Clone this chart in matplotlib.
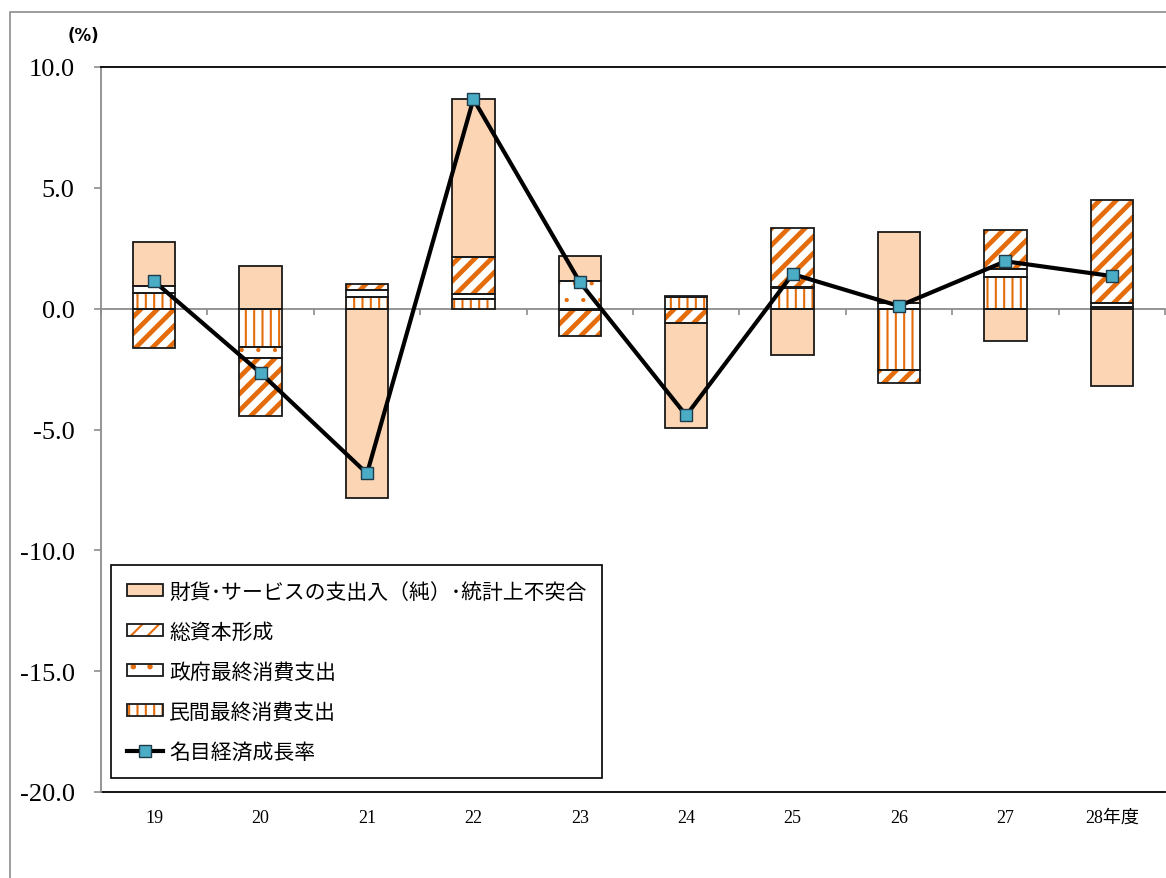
import matplotlib

matplotlib.use("Agg")
import matplotlib.pyplot as plt
import numpy as np
from matplotlib.patches import Rectangle
from matplotlib.lines import Line2D
from matplotlib.legend_handler import HandlerTuple

plt.rcParams["font.family"] = ["Noto Sans CJK JP", "DejaVu Sans"]
plt.rcParams["hatch.linewidth"] = 1.5

# ------------------------------------------------------------ data
years = ["19", "20", "21", "22", "23", "24", "25", "26", "27", "28年度"]
private = [0.65, -1.58, 0.48, 0.41, -0.05, 0.48, 0.84, -2.53, 1.31, 0.06]
government = [0.30, -0.46, 0.30, 0.20, 1.13, 0.03, 0.04, 0.23, 0.33, 0.17]
capital = [-1.62, -2.41, 0.24, 1.51, -1.07, -0.59, 2.45, -0.55, 1.61, 4.27]
net_exports = [1.79, 1.78, -7.85, 6.55, 1.07, -4.34, -1.93, 2.96, -1.34, -3.18]
growth = [1.13, -2.66, -6.82, 8.67, 1.10, -4.42, 1.43, 0.11, 1.96, 1.35]

labels = [
    "財貨･サービスの支出入（純）･統計上不突合",
    "総資本形成",
    "政府最終消費支出",
    "民間最終消費支出",
    "名目経済成長率",
]

PEACH = "#FCD5B4"
ORANGE = "#E46C0A"
TEAL = "#4BACC6"
EDGE = "#1a1a1a"
GRID_GRAY = "#8c8c8c"
BAR_W = 0.4

fig = plt.figure(figsize=(11.66, 8.79), dpi=100)
ax = fig.add_axes([101 / 1166, 1 - 793 / 879, 1064 / 1166, 725 / 879])

x = np.arange(len(years))

# stacking order: private, government, capital, net exports (pos up / neg down)
series = [
    (private, dict(facecolor="white", hatch="||", hatch_color=ORANGE, lw=1.5)),
    (government, dict(facecolor="white", hatch=".", hatch_color=ORANGE, lw=0.6)),
    (capital, dict(facecolor="white", hatch="//", hatch_color=ORANGE, lw=3.4)),
    (net_exports, dict(facecolor=PEACH, hatch=None, hatch_color=PEACH, lw=1.0)),
]

pos_base = np.zeros(len(years))
neg_base = np.zeros(len(years))
legend_patches = []
for vals, style in series:
    vals = np.asarray(vals)
    bottoms = np.where(vals >= 0, pos_base, neg_base)
    with plt.rc_context({"hatch.linewidth": style["lw"]}):
        fill = ax.bar(x, vals, BAR_W, bottom=bottoms, color=style["facecolor"],
                      edgecolor=style["hatch_color"], hatch=style["hatch"],
                      linewidth=0, zorder=2)
        for p in fill:
            if hasattr(p, "set_hatch_linewidth"):
                p.set_hatch_linewidth(style["lw"])
        hp = Rectangle((0, 0), 1, 1, facecolor=style["facecolor"],
                       edgecolor=style["hatch_color"], hatch=style["hatch"], linewidth=0)
        if hasattr(hp, "set_hatch_linewidth"):
            hp.set_hatch_linewidth(style["lw"])
    ax.bar(x, vals, BAR_W, bottom=bottoms, fill=False, edgecolor=EDGE,
           linewidth=1.3, zorder=3)
    ho = Rectangle((0, 0), 1, 1, fill=False, edgecolor=EDGE, linewidth=1.3)
    legend_patches.append((hp, ho))
    pos_base = pos_base + np.where(vals >= 0, vals, 0)
    neg_base = neg_base + np.where(vals < 0, vals, 0)

line, = ax.plot(x, growth, color="black", linewidth=3.0, marker="s",
                markersize=8.5, markerfacecolor=TEAL, markeredgecolor="#1f3a48",
                markeredgewidth=1.0, zorder=5)

# ------------------------------------------------------------ axes styling
ax.set_xlim(-0.5, len(years) - 0.5)
ax.set_ylim(-20, 10)
ax.set_yticks(np.arange(-20, 10.1, 5))
ax.set_yticklabels([f"{v:.1f}" for v in np.arange(-20, 10.1, 5)],
                   family=["Liberation Serif", "DejaVu Serif"], fontsize=19)
ax.tick_params(axis="y", direction="out", length=5, width=1.2, color=GRID_GRAY, pad=14)

ax.spines["right"].set_visible(False)
ax.spines["top"].set_color("black")
ax.spines["top"].set_linewidth(1.3)
ax.spines["left"].set_color(GRID_GRAY)
ax.spines["left"].set_linewidth(1.3)
ax.spines["bottom"].set_position(("data", 0))
ax.spines["bottom"].set_color(GRID_GRAY)
ax.spines["bottom"].set_linewidth(1.3)
ax.spines["bottom"].set_zorder(1)

ax.set_xticks(x)
ax.set_xticklabels([])
ax.tick_params(axis="x", which="major", length=0)
ax.set_xticks(np.arange(-0.5, len(years), 1.0), minor=True)
ax.tick_params(axis="x", which="minor", direction="out", length=4, width=1.2,
               color=GRID_GRAY)

sec = ax.secondary_xaxis(0.0)
sec.set_xticks(x)
sec.set_xticklabels(years, family=["Liberation Serif", "Noto Sans CJK JP"], fontsize=13)
sec.tick_params(axis="x", length=0, pad=12)
sec.spines["bottom"].set_color("black")
sec.spines["bottom"].set_linewidth(1.3)

fig.text(68 / 1166, 1 - 36 / 879, "(%)", fontsize=12, fontweight="bold",
         family=["DejaVu Sans"], ha="left", va="center")

# outer chart border
fig.patches.append(Rectangle((10 / 1166, -0.2), 1.2, 1 - 13 / 879 + 0.2,
                             transform=fig.transFigure, fill=False,
                             edgecolor="#8c8c8c", linewidth=1.2))

line_handle = Line2D([], [], color="black", linewidth=3.0, marker="s", markersize=8.5,
                     markerfacecolor=TEAL, markeredgecolor="#1f3a48")
handles = [legend_patches[3], legend_patches[2], legend_patches[1], legend_patches[0],
           line_handle]
leg = ax.legend(handles, labels, loc="lower left", bbox_to_anchor=(0.0094, 0.0193),
                borderaxespad=0, fontsize=15, frameon=True, fancybox=False,
                edgecolor="black", framealpha=1, handlelength=1.75, handleheight=0.5,
                handletextpad=0.3, labelspacing=0.86, borderpad=0.75,
                handler_map={tuple: HandlerTuple(ndivide=1, pad=0)})
leg.get_frame().set_linewidth(1.2)
leg.set_zorder(6)

fig.savefig("out.png", dpi=100)
plt.close(fig)
